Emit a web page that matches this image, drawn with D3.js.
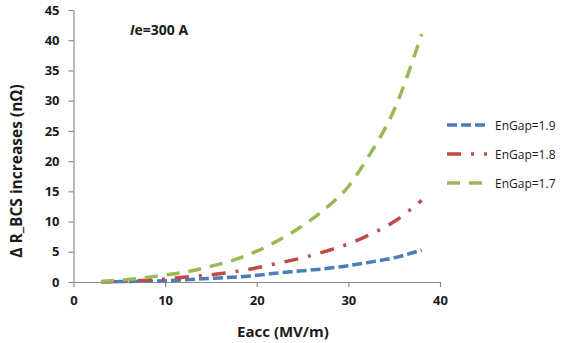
<!DOCTYPE html>
<html>
<head>
<meta charset="utf-8">
<script src="https://cdn.jsdelivr.net/npm/d3@7"></script>
<style>
  body { margin: 0; background: #fff; }
  text { font-family: "Open Sans", "Liberation Sans", sans-serif; fill: #1a1a1a; }
</style>
</head>
<body>
<script>
'use strict';

// field values (MV/m) and resistance increase for each energy gap
const eacc = [3, 5, 8, 10, 12, 15, 18, 20, 22, 25, 28, 30, 32, 35, 38];
const gap19 = [0.03, 0.07, 0.15, 0.22, 0.35, 0.6, 0.85, 1.1, 1.45, 1.85, 2.3, 2.7, 3.2, 4.0, 5.3];
const gap18 = [0.05, 0.1, 0.3, 0.5, 0.8, 1.2, 1.8, 2.35, 3.0, 4.0, 5.3, 6.3, 7.6, 10.0, 13.5];
const gap17 = [0.1, 0.3, 0.75, 1.15, 1.6, 2.6, 3.9, 5.1, 6.6, 9.3, 12.8, 15.8, 20.3, 28.5, 41.0];

const seriesNames = ['EnGap=1.9', 'EnGap=1.8', 'EnGap=1.7'];
const xTicks = [0, 10, 20, 30, 40];
const yTicks = [0, 5, 10, 15, 20, 25, 30, 35, 40, 45];

(function () {
  const svg = d3.select('body').append('svg')
    .attr('width', 568)
    .attr('height', 343);

  const xScale = d3.scaleLinear().domain([0, 40]).range([73.5, 440]);
  const yScale = d3.scaleLinear().domain([0, 45]).range([282, 10]);

  const axisColor = '#8c8c8c';

  // y axis, ticks on the outside
  const yAxis = svg.append('g')
    .attr('transform', 'translate(73.5,0)')
    .call(d3.axisLeft(yScale).tickValues(yTicks).tickSize(5).tickSizeOuter(0));
  yAxis.select('.domain').attr('stroke', axisColor).attr('stroke-width', 1.2);
  yAxis.selectAll('.tick line').attr('stroke', axisColor).attr('stroke-width', 1.2);
  yAxis.selectAll('.tick text')
    .attr('x', -14)
    .style('font-size', '13px')
    .style('font-weight', 'bold')
    .style('font-family', '"Open Sans", sans-serif')
    .attr('fill', '#1a1a1a');

  // x axis
  const xAxis = svg.append('g')
    .attr('transform', 'translate(0,282)')
    .call(d3.axisBottom(xScale).tickValues(xTicks).tickSize(5).tickSizeOuter(0));
  xAxis.select('.domain').attr('stroke', axisColor).attr('stroke-width', 1.2);
  xAxis.selectAll('.tick line').attr('stroke', axisColor).attr('stroke-width', 1.2);
  xAxis.selectAll('.tick text')
    .attr('y', 14)
    .style('font-size', '13px')
    .style('font-weight', 'bold')
    .style('font-family', '"Open Sans", sans-serif')
    .attr('fill', '#1a1a1a');

  // series styles
  const series = [
    { name: seriesNames[0], values: gap19, color: '#4a7ebb', dash: '10,4' },
    { name: seriesNames[1], values: gap18, color: '#be4b48', dash: '14,10,3,10' },
    { name: seriesNames[2], values: gap17, color: '#98b954', dash: '13,9' }
  ];

  const line = d3.line()
    .x((d, i) => xScale(eacc[i]))
    .y((d) => yScale(d))
    .curve(d3.curveMonotoneX);

  series.forEach((s) => {
    svg.append('path')
      .datum(s.values)
      .attr('fill', 'none')
      .attr('stroke', s.color)
      .attr('stroke-width', 3.5)
      .attr('stroke-dasharray', s.dash)
      .attr('d', line);
  });

  // legend
  const legend = svg.append('g').attr('transform', 'translate(447,0)');
  const legendY = [125, 154, 183];
  series.forEach((s, i) => {
    legend.append('line')
      .attr('x1', 0).attr('x2', 40)
      .attr('y1', legendY[i]).attr('y2', legendY[i])
      .attr('stroke', s.color)
      .attr('stroke-width', 3.5)
      .attr('stroke-dasharray', s.dash);
    legend.append('text')
      .attr('x', 48)
      .attr('y', legendY[i] + 4.5)
      .style('font-size', '12px')
      .text(s.name);
  });

  // annotation
  const note = svg.append('text')
    .attr('x', 130)
    .attr('y', 35)
    .style('font-size', '14px')
    .style('font-weight', 'bold');
  note.append('tspan').style('font-style', 'italic').text('I');
  note.append('tspan').text('e=300 A');

  // axis titles
  svg.append('text')
    .attr('x', 283)
    .attr('y', 337)
    .attr('text-anchor', 'middle')
    .style('font-size', '15px')
    .style('font-weight', 'bold')
    .text('Eacc (MV/m)');

  svg.append('text')
    .attr('transform', 'translate(22,171)rotate(-90)')
    .attr('text-anchor', 'middle')
    .style('font-size', '15.5px')
    .style('font-weight', 'bold')
    .text('Δ R_BCS increases (nΩ)');
})();
</script>
</body>
</html>
